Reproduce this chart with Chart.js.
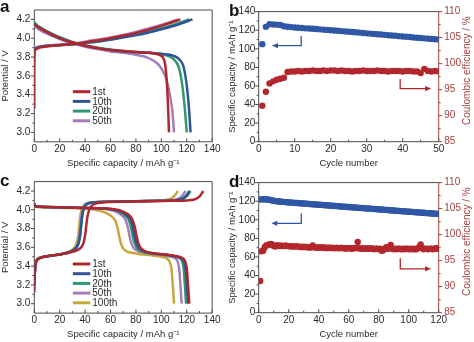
<!DOCTYPE html>
<html>
<head>
<meta charset="utf-8">
<script src="https://cdn.jsdelivr.net/npm/chart.js@4.4.1/dist/chart.umd.min.js"></script>
<style>
  html, body { margin: 0; padding: 0; background: #fff; }
  #fig { position: relative; width: 474px; height: 342px; overflow: hidden; background: #fff; }
  #fig canvas { position: absolute; }
  .tag { position: absolute; font: bold 17px/17px "Liberation Sans", Arial, sans-serif; color: #111; }
</style>
</head>
<body>
<div id="fig">
  <canvas id="pa" width="222" height="171" style="left:0;top:0"></canvas>
  <canvas id="pb" width="256" height="171" style="left:218px;top:0"></canvas>
  <canvas id="pc" width="222" height="171" style="left:0;top:171px"></canvas>
  <canvas id="pd" width="256" height="171" style="left:218px;top:171px"></canvas>
  <div class="tag" style="left:0;top:-2px">a</div>
  <div class="tag" style="left:229px;top:2px">b</div>
  <div class="tag" style="left:0;top:172px">c</div>
  <div class="tag" style="left:229px;top:173px">d</div>
</div>
<script>
// ---------- tick values ----------
const capTicks = [0, 20, 40, 60, 80, 100, 120, 140];
const capMinor = [10, 30, 50, 70, 90, 110, 130];
const voltTicks = [3.0, 3.2, 3.4, 3.6, 3.8, 4.0, 4.2];
const voltMinor = [3.1, 3.3, 3.5, 3.7, 3.9, 4.1];
const cycleTicksB = [0, 10, 20, 30, 40, 50];
const cycleMinorB = [5, 15, 25, 35, 45];
const cycleTicksD = [0, 20, 40, 60, 80, 100, 120];
const cycleMinorD = [10, 30, 50, 70, 90, 110];
const specTicks = [0, 20, 40, 60, 80, 100, 120, 140];
const specMinor = [10, 30, 50, 70, 90, 110, 130];
const ceTicks = [85, 90, 95, 100, 105, 110];
const ceMinor = [87.5, 92.5, 97.5, 102.5, 107.5];

// ---------- cycle labels ----------
const cycleLabelsA = ['1st', '10th', '20th', '50th'];
const cycleLabelsC = ['1st', '10th', '20th', '50th', '100th'];

// ---------- panel a: charge / discharge curves [capacity mAh/g, potential V] ----------
const aCharge1 = [[0,3.25],[0,3.6],[0.3,3.85],[1,3.88],[5,3.905],[11,3.915],[23,3.93],[35,3.945],[46,3.97],[58,3.995],[69,4.025],[81,4.06],[92,4.1],[104,4.15],[115,4.2]];
const aCharge10 = [[0,3.86],[1,3.89],[5,3.91],[12,3.92],[25,3.93],[37,3.945],[50,3.965],[62,3.99],[75,4.02],[87,4.05],[100,4.095],[112,4.14],[124.5,4.2]];
const aCharge20 = [[0,3.87],[1,3.89],[5,3.91],[12,3.92],[24,3.93],[36,3.945],[49,3.965],[61,3.99],[73,4.02],[85,4.055],[98,4.1],[110,4.145],[122,4.2]];
const aCharge50 = [[0,3.88],[1,3.9],[5,3.915],[11,3.925],[23,3.935],[34,3.95],[45,3.975],[57,4.0],[68,4.03],[79,4.065],[90,4.105],[102,4.15],[113,4.2]];
const aDischarge1 = [[0,4.15],[3,4.12],[8,4.08],[15,4.03],[22,3.99],[30,3.955],[40,3.92],[50,3.895],[60,3.875],[70,3.865],[80,3.855],[90,3.845],[97,3.83],[101,3.8],[103,3.72],[104.5,3.5],[105.5,3.2],[106,3.0]];
const aDischarge10 = [[0,4.15],[3,4.12],[8,4.08],[15,4.03],[22,3.99],[30,3.955],[40,3.92],[50,3.895],[60,3.875],[70,3.86],[80,3.85],[90,3.845],[100,3.835],[108,3.82],[113,3.79],[117,3.72],[119.5,3.55],[121.5,3.3],[123,3.0]];
const aDischarge20 = [[0,4.17],[3,4.13],[8,4.09],[15,4.04],[22,4.0],[30,3.96],[40,3.925],[50,3.9],[60,3.88],[70,3.865],[80,3.855],[90,3.845],[100,3.83],[106,3.81],[111,3.76],[114,3.68],[116.5,3.5],[118.5,3.25],[120,3.0]];
const aDischarge50 = [[0,4.13],[3,4.1],[8,4.06],[15,4.02],[22,3.98],[30,3.945],[40,3.91],[50,3.885],[60,3.86],[70,3.845],[80,3.825],[88,3.8],[94,3.76],[99,3.7],[103,3.6],[106,3.45],[108.5,3.25],[110,3.0]];

// ---------- panel c: charge / discharge curves ----------
const cCharge1 = [[0,3.12],[0.3,3.3],[1,3.42],[2.5,3.47],[6,3.495],[12,3.51],[20,3.525],[28,3.545],[34,3.57],[37,3.6],[39,3.66],[40.5,3.78],[41.5,3.9],[43,3.99],[45,4.04],[48,4.065],[55,4.08],[70,4.085],[90,4.09],[110,4.095],[120,4.1],[126,4.11],[130,4.14],[133,4.2]];
const cCharge10 = [[0,3.2],[0.5,3.35],[1.2,3.44],[3,3.48],[8,3.5],[15,3.515],[22,3.53],[28,3.55],[32,3.58],[34.5,3.63],[36,3.72],[37,3.85],[38,3.96],[39.5,4.03],[42,4.065],[48,4.08],[60,4.085],[80,4.09],[100,4.095],[110,4.1],[116,4.115],[119.5,4.15],[122,4.2]];
const cCharge20 = [[0,3.2],[0.5,3.35],[1.2,3.44],[3,3.48],[8,3.5],[15,3.515],[22,3.53],[28,3.55],[32,3.58],[34.5,3.63],[36,3.72],[37,3.85],[38,3.96],[39.5,4.03],[42,4.065],[48,4.08],[60,4.085],[80,4.09],[100,4.095],[111,4.1],[117,4.115],[120.5,4.15],[123,4.2]];
const cCharge50 = [[0,3.2],[0.5,3.35],[1.2,3.44],[3,3.48],[8,3.5],[15,3.515],[22,3.53],[27.5,3.55],[31.5,3.58],[34,3.63],[35.5,3.72],[36.5,3.85],[37.5,3.96],[39,4.03],[41.5,4.065],[47,4.08],[60,4.085],[80,4.09],[98,4.095],[107,4.1],[113,4.115],[116.5,4.15],[119,4.2]];
const cCharge100 = [[0,3.2],[0.5,3.35],[1.2,3.44],[3,3.48],[8,3.5],[15,3.515],[21,3.53],[26.5,3.55],[30.5,3.58],[33,3.63],[34.5,3.72],[35.5,3.85],[36.5,3.96],[38,4.03],[40.5,4.065],[46,4.08],[60,4.085],[80,4.09],[92,4.095],[101,4.1],[107,4.115],[110.5,4.15],[113,4.2]];
const cDischarge1 = [[0,4.07],[0.5,4.045],[2,4.035],[10,4.03],[25,4.025],[40,4.02],[55,4.015],[63,4.005],[69,3.985],[74,3.95],[77,3.9],[79,3.82],[80.5,3.72],[82,3.64],[84,3.59],[88,3.555],[95,3.535],[105,3.52],[112,3.505],[116,3.49],[118.5,3.46],[120,3.38],[121,3.2],[122,3.0]];
const cDischarge10 = [[0,4.07],[0.5,4.045],[2,4.035],[10,4.03],[25,4.025],[40,4.02],[53,4.015],[61,4.005],[67,3.985],[72,3.95],[75.5,3.9],[77.5,3.82],[79,3.72],[80.5,3.64],[82.5,3.59],[86.5,3.555],[94,3.535],[104,3.52],[111,3.505],[115,3.49],[117.5,3.46],[119,3.38],[120,3.2],[121,3.0]];
const cDischarge20 = [[0,4.07],[0.5,4.045],[2,4.035],[10,4.03],[25,4.025],[40,4.02],[51,4.015],[59.5,4.005],[65.5,3.985],[70.5,3.95],[74,3.9],[76,3.82],[77.5,3.72],[79,3.64],[81,3.59],[85,3.555],[92.5,3.535],[102.5,3.52],[109.5,3.505],[113.5,3.49],[116,3.46],[117.5,3.38],[118.5,3.2],[119.5,3.0]];
const cDischarge50 = [[0,4.07],[0.5,4.045],[2,4.035],[10,4.03],[25,4.025],[40,4.02],[48.5,4.015],[57,4.005],[63,3.985],[68,3.95],[71.5,3.9],[73.5,3.82],[75,3.72],[76.5,3.64],[78.5,3.59],[82.5,3.555],[90,3.535],[99.5,3.52],[106,3.505],[110,3.49],[112.5,3.46],[114,3.38],[115,3.2],[116,3.0]];
const cDischarge100 = [[0,4.06],[0.5,4.04],[2,4.03],[10,4.025],[25,4.02],[38,4.015],[48,4.0],[55,3.975],[60,3.94],[63.5,3.89],[65.5,3.81],[67,3.71],[68.5,3.63],[70.5,3.58],[74,3.55],[82,3.53],[92,3.515],[100,3.5],[104,3.485],[106.5,3.45],[108,3.37],[109,3.2],[110,3.0]];

// ---------- panel b: cycling, 50 cycles ----------
const capacityB = [105.0,123.6,126.4,126.1,126.0,125.7,124.3,123.7,123.3,122.9,
  122.6,122.3,122.0,121.8,121.5,121.2,120.9,120.6,120.3,120.0,
  119.7,119.4,119.0,118.7,118.4,118.0,117.7,117.4,117.0,116.6,
  116.3,116.0,115.6,115.3,115.0,114.6,114.3,114.0,113.6,113.2,
  112.9,112.6,112.2,111.9,111.6,111.2,110.9,110.6,110.2,109.9];
const efficiencyB = [91.9,94.6,96.2,96.6,96.9,97.1,97.3,98.4,98.5,98.5,
  98.6,98.5,98.6,98.6,98.7,98.6,98.6,98.7,98.6,98.7,
  98.7,98.6,98.7,98.6,98.6,98.5,98.6,98.6,98.7,98.6,
  98.6,98.6,98.7,98.6,98.6,98.5,98.6,98.6,98.6,98.5,
  98.6,98.6,98.5,98.5,98.2,99.0,98.6,98.5,98.6,98.5];

// ---------- panel d: cycling, 120 cycles ----------
const capacityD = [121.8,122.0,122.1,121.9,122.0,121.8,121.6,121.2,120.8,120.4,
  120.1,119.9,119.7,119.6,119.4,119.3,119.1,119.0,118.9,118.7,
  118.6,118.5,118.3,118.2,118.1,118.0,117.8,117.7,117.6,117.5,
  117.3,117.2,117.1,117.0,116.8,116.7,116.6,116.5,116.3,116.2,
  116.1,116.0,115.8,115.7,115.6,115.5,115.3,115.2,115.1,115.0,
  114.8,114.7,114.6,114.5,114.3,114.2,114.1,114.0,113.8,113.7,
  113.6,113.5,113.3,113.2,113.1,113.0,112.8,112.7,112.6,112.5,
  112.3,112.2,112.1,112.0,111.8,111.7,111.6,111.5,111.3,111.2,
  111.1,111.0,110.8,110.7,110.6,110.5,110.3,110.2,110.1,110.0,
  109.8,109.7,109.6,109.5,109.3,109.2,109.1,109.0,108.8,108.7,
  108.6,108.5,108.3,108.2,108.1,108.0,107.8,107.7,107.6,107.5,
  107.3,107.2,107.1,107.0,106.8,106.7,106.6,106.5,106.3,106.2];
const efficiencyD = [91.1,96.8,96.9,97.6,97.9,98.0,98.1,98.2,98.1,97.8,
  97.7,97.9,97.9,97.8,97.9,97.8,97.8,97.9,97.8,97.8,
  97.7,97.8,97.7,97.7,97.8,97.7,97.7,97.6,97.7,97.6,
  97.7,97.6,97.6,97.5,97.6,97.9,97.6,97.5,97.5,97.6,
  97.5,97.5,97.6,97.5,97.4,97.5,97.5,97.4,97.5,97.4,
  97.4,97.5,97.4,97.4,97.5,97.4,97.4,97.3,97.4,97.4,
  97.4,97.3,97.4,97.4,97.4,98.6,97.4,97.3,97.4,97.3,
  97.3,97.4,97.3,97.3,97.4,97.3,97.2,97.3,97.3,97.2,
  97.3,96.9,97.0,97.3,97.6,97.3,97.4,98.0,97.3,97.2,
  97.3,97.2,97.3,97.3,97.2,97.3,97.2,97.3,97.3,97.2,
  97.3,97.2,97.3,97.2,97.2,97.4,97.6,98.1,97.4,97.2,
  97.3,97.3,97.2,97.3,97.3,97.2,97.3,97.4,97.3,97.4];

// ---------- styling ----------
const FONT = '"Liberation Sans", Arial, Helvetica, sans-serif';
const INK = '#2a2a2a';
const AXIS = '#4a4a4a';
const TITLE_SIZE = 9.5;
const COL = {
  red: '#b1262e', blue: '#2e5697', green: '#2d9a6b', purple: '#a77db8', yellow: '#c9a63b',
  capDot: '#2f57a5', ceDot: '#b3272c', ceAxis: '#a3403d'
};

// Frame, tick marks, pointer arrows, in-plot legend and the rotated right-hand title
const figurePlugin = {
  id: 'figure',
  beforeDatasetsDraw(chart, _a, o) {
    const { ctx, chartArea: ca, scales } = chart;
    ctx.save();
    ctx.lineWidth = 1;
    const line = (x1, y1, x2, y2, c) => { ctx.strokeStyle = c; ctx.beginPath(); ctx.moveTo(x1, y1); ctx.lineTo(x2, y2); ctx.stroke(); };
    line(ca.left, ca.top, ca.right, ca.top, AXIS);
    line(ca.left, ca.top, ca.left, ca.bottom, AXIS);
    line(ca.left, ca.bottom, ca.right, ca.bottom, AXIS);
    line(ca.right, ca.top, ca.right, ca.bottom, o.rightColor || AXIS);
    (o.ticks || []).forEach(t => {
      const s = scales[t.axis];
      const draw = (vals, len) => vals.forEach(v => {
        const p = s.getPixelForValue(v);
        if (s.isHorizontal()) line(p, ca.bottom, p, ca.bottom - len, AXIS);
        else if (s.position === 'left') line(ca.left, p, ca.left - len, p, AXIS);
        else line(ca.right, p, ca.right + len, p, o.rightColor || AXIS);
      });
      draw(t.major, 3.5);
      draw(t.minor, 2);
    });
    ctx.restore();
  },
  afterDatasetsDraw(chart, _a, o) {
    const { ctx, chartArea: ca, scales } = chart;
    ctx.save();
    (o.arrows || []).forEach(ar => {
      const ys = scales[ar.axis];
      const pts = ar.x.map((xv, i) => [scales.x.getPixelForValue(xv), ys.getPixelForValue(ar.y[i])]);
      ctx.strokeStyle = ar.color; ctx.fillStyle = ar.color; ctx.lineWidth = 1.3;
      const [x1, y1] = pts[pts.length - 2], [x2, y2] = pts[pts.length - 1];
      const ang = Math.atan2(y2 - y1, x2 - x1);
      const hl = 6, hw = 2.6;
      ctx.beginPath();
      pts.forEach(([px, py], i) => {
        if (i === 0) ctx.moveTo(px, py);
        else if (i === pts.length - 1) ctx.lineTo(px - (hl - 1) * Math.cos(ang), py - (hl - 1) * Math.sin(ang));
        else ctx.lineTo(px, py);
      });
      ctx.stroke();
      ctx.beginPath();
      ctx.moveTo(x2, y2);
      ctx.lineTo(x2 - hl * Math.cos(ang) + hw * Math.sin(ang), y2 - hl * Math.sin(ang) - hw * Math.cos(ang));
      ctx.lineTo(x2 - hl * Math.cos(ang) - hw * Math.sin(ang), y2 - hl * Math.sin(ang) + hw * Math.cos(ang));
      ctx.closePath();
      ctx.fill();
    });
    if (o.legend) {
      const lg = o.legend;
      ctx.font = '10px ' + FONT;
      ctx.textBaseline = 'middle';
      ctx.textAlign = 'left';
      lg.labels.forEach((lab, i) => {
        const y = ca.top + lg.top + i * lg.step;
        ctx.strokeStyle = lg.colors[i];
        ctx.lineWidth = 3;
        ctx.beginPath();
        ctx.moveTo(ca.left + lg.x0, y);
        ctx.lineTo(ca.left + lg.x1, y);
        ctx.stroke();
        ctx.fillStyle = INK;
        ctx.fillText(lab, ca.left + lg.x1 + 2, y + 0.5);
      });
    }
    if (o.rightTitle) {
      ctx.font = '10px ' + FONT;
      ctx.fillStyle = o.rightColor;
      ctx.textAlign = 'center';
      ctx.textBaseline = 'middle';
      ctx.translate(chart.width - 7, (ca.top + ca.bottom) / 2 - 6);
      ctx.rotate(-Math.PI / 2);
      ctx.fillText(o.rightTitle, 0, 0);
    }
    ctx.restore();
  }
};

function axis(cfg) {
  return {
    type: 'linear',
    position: cfg.position,
    min: cfg.min, max: cfg.max,
    afterBuildTicks: s => { s.ticks = cfg.ticks.map(v => ({ value: v })); },
    afterFit: s => { if (s.isHorizontal()) s.height = cfg.size; else s.width = cfg.size; },
    grid: { display: false, drawTicks: false },
    border: { display: false },
    ticks: {
      color: cfg.color || INK, font: { family: FONT, size: 10 }, padding: cfg.pad,
      autoSkip: false, maxRotation: 0, callback: cfg.fmt || (v => String(v))
    },
    title: cfg.title
      ? { display: true, text: cfg.title, color: cfg.color || INK, font: { family: FONT, size: TITLE_SIZE }, padding: cfg.titlePad }
      : { display: false }
  };
}

function curve(points, color) {
  return {
    data: points.map(([x, y]) => ({ x, y })),
    showLine: true, borderColor: color, backgroundColor: color,
    borderWidth: 2.5, pointRadius: 0, tension: 0.25
  };
}

function dots(values, color, yAxisID) {
  return {
    data: values.map((v, i) => ({ x: i + 1, y: v })),
    yAxisID, showLine: false, pointRadius: 3.2, pointBorderWidth: 0,
    backgroundColor: color, borderColor: color
  };
}

const CAP_TITLE = 'Specific capacity / mAh g\u207B\u00B9';

function curvePanel(id, datasets, labels, colors, area) {
  return new Chart(document.getElementById(id), {
    type: 'scatter',
    data: { datasets },
    options: {
      responsive: false, animation: false, events: [],
      layout: { padding: { left: 0, top: area.top, right: 222 - area.right, bottom: 0 } },
      plugins: {
        legend: { display: false }, tooltip: { enabled: false },
        figure: {
          ticks: [{ axis: 'x', major: capTicks, minor: capMinor }, { axis: 'y', major: voltTicks, minor: voltMinor }],
          legend: { labels, colors, x0: 38.5, x1: 56, top: area.legendTop, step: 9.7 }
        }
      },
      scales: {
        x: axis({ position: 'bottom', min: 0, max: 140, ticks: capTicks, size: 171 - area.bottom, pad: 1.5,
          title: CAP_TITLE, titlePad: { top: 0, bottom: 1.9 } }),
        y: axis({ position: 'left', min: 2.9, max: 4.3, ticks: voltTicks, size: area.left, pad: 4,
          fmt: v => v.toFixed(1), title: 'Potential / V', titlePad: { top: 0, bottom: 0 } })
      }
    },
    plugins: [figurePlugin]
  });
}

function cyclePanel(id, capValues, ceValues, xMax, xTicks, xMinor, area, arrows) {
  return new Chart(document.getElementById(id), {
    type: 'scatter',
    data: { datasets: [dots(capValues, COL.capDot, 'y'), dots(ceValues, COL.ceDot, 'y2')] },
    options: {
      responsive: false, animation: false, events: [],
      layout: { padding: { left: 0, top: area.top, right: 0, bottom: 0 } },
      plugins: {
        legend: { display: false }, tooltip: { enabled: false },
        figure: {
          rightColor: COL.ceAxis,
          rightTitle: 'Coulombic efficiency / %',
          ticks: [{ axis: 'x', major: xTicks, minor: xMinor }, { axis: 'y', major: specTicks, minor: specMinor }, { axis: 'y2', major: ceTicks, minor: ceMinor }],
          arrows
        }
      },
      scales: {
        x: axis({ position: 'bottom', min: 0, max: xMax, ticks: xTicks, size: 171 - area.bottom, pad: 1.5,
          title: 'Cycle number', titlePad: { top: 0, bottom: 1.9 } }),
        y: axis({ position: 'left', min: 0, max: 140, ticks: specTicks, size: area.left, pad: 3.4,
          title: CAP_TITLE, titlePad: { top: 8.5, bottom: 0 } }),
        y2: axis({ position: 'right', min: 85, max: 110, ticks: ceTicks, size: 256 - area.right, pad: 5.6,
          color: COL.ceAxis })
      }
    },
    plugins: [figurePlugin]
  });
}

// panel a
curvePanel('pa', [
  curve(aCharge1, COL.red), curve(aDischarge1, COL.red),
  curve(aCharge10, COL.blue), curve(aDischarge10, COL.blue),
  curve(aCharge20, COL.green), curve(aDischarge20, COL.green),
  curve(aCharge50, COL.purple), curve(aDischarge50, COL.purple)
], cycleLabelsA, [COL.red, COL.blue, COL.green, COL.purple],
{ left: 34.3, right: 213.3, top: 8.8, bottom: 141.8, legendTop: 81.7 });

// panel c
curvePanel('pc', [
  curve(cCharge1, COL.red), curve(cDischarge1, COL.red),
  curve(cCharge10, COL.blue), curve(cDischarge10, COL.blue),
  curve(cCharge20, COL.green), curve(cDischarge20, COL.green),
  curve(cCharge50, COL.purple), curve(cDischarge50, COL.purple),
  curve(cCharge100, COL.yellow), curve(cDischarge100, COL.yellow)
], cycleLabelsC, [COL.red, COL.blue, COL.green, COL.purple, COL.yellow],
{ left: 34.3, right: 213.3, top: 10.6, bottom: 142.1, legendTop: 82.4 });

// panel b
cyclePanel('pb', capacityB, efficiencyB, 50, cycleTicksB, cycleMinorB,
  { left: 40.7, right: 220.7, top: 8.3, bottom: 141.7 },
  [
    { axis: 'y', x: [11.8, 11.8, 3.7], y: [113.8, 103.3, 103.3], color: COL.capDot },
    { axis: 'y2', x: [39.3, 39.3, 47.9], y: [97.07, 95.2, 95.2], color: COL.ceDot }
  ]);

// panel d
cyclePanel('pd', capacityD, efficiencyD, 120, cycleTicksD, cycleMinorD,
  { left: 40.7, right: 220.7, top: 8.3, bottom: 141.7 },
  [
    { axis: 'y', x: [28.4, 28.4, 8.4], y: [106.7, 96.2, 96.2], color: COL.capDot },
    { axis: 'y2', x: [94.4, 94.4, 114.9], y: [95.44, 93.43, 93.43], color: COL.ceDot }
  ]);
</script>
</body>
</html>
